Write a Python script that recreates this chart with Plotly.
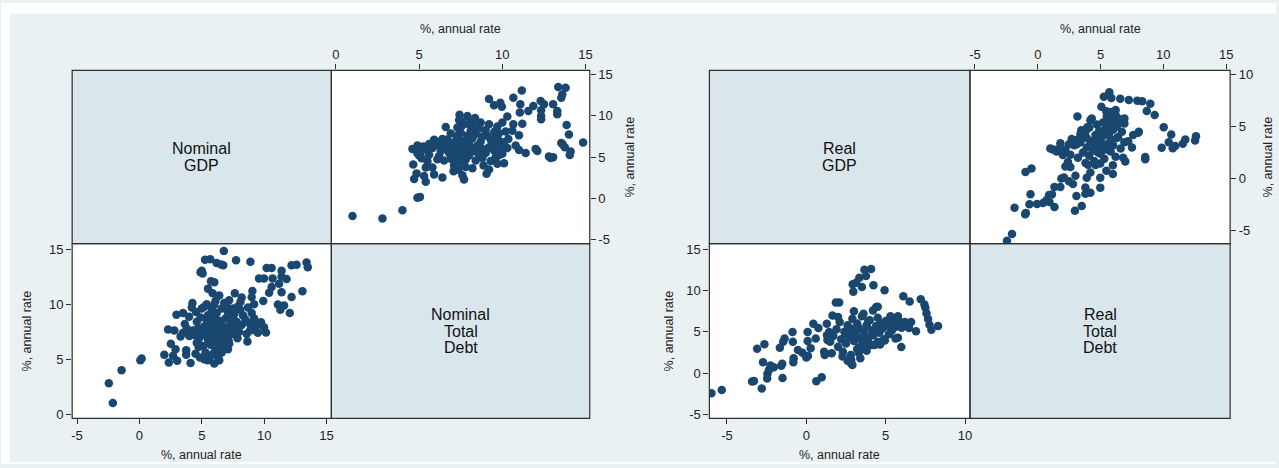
import plotly.graph_objects as go

# ---- Nominal series: growth, % annual rate ----
nominal_gdp = [
    -2.45, -2.13, -1.43, 0.08, 0.18,
    2.0, 2.36, 3.03, 2.7, 2.52, 2.9, 2.3, 2.8, 3.3, 3.75, 3.75, 4.1, 4.5, 4.75, 4.86,
    2.97, 3.5, 3.98, 3.64, 4.25, 3.48, 4.0, 4.4, 4.54, 4.9, 5.0,
    6.77, 5.26, 5.68, 6.19, 6.72, 6.55, 7.75, 8.9, 5.07, 5.74, 5.87, 7.65, 8.2, 9.0,
    9.06, 9.19, 9.93, 9.0, 9.59, 9.99, 10.68, 10.2, 10.6, 11.4, 11.4, 11.8, 11.2,
    10.6, 10.4, 11.4, 12.2, 11.1, 11.6, 11.3, 12.06, 12.2, 12.6, 13.4, 13.5, 13.07,
    9.99, 10.15, 9.75, 9.33, 8.87, 8.66, 7.1, 6.3, 5.47, 7.15, 7.86, 7.7, 8.07, 7.6,
    6.99, 7.2, 6.0, 5.2,
    5.0, 5.2, 5.3, 5.4, 5.5, 5.5, 5.6, 5.7, 5.7, 5.8, 5.8, 5.9, 6.0, 6.0, 6.1, 6.1,
    6.2, 6.2, 6.3, 6.3, 6.4, 6.4, 6.5, 6.6, 6.7, 6.7, 6.8, 6.9, 7.0, 7.1, 7.2, 7.3,
    7.4, 7.5, 7.6, 7.8, 7.9, 8.0, 8.2, 8.3, 8.5, 8.6, 8.8, 9.0, 9.2, 9.4, 9.5, 5.1,
    5.3, 5.6, 5.9, 6.2, 6.6, 6.9, 4.9, 4.7, 4.8, 5.0, 5.4, 6.1, 6.4, 6.8, 7.5, 8.1,
    8.7, 5.5, 6.0, 4.6, 4.3, 4.2, 3.8, 4.6, 5.2, 6.4, 6.0,
]
nominal_debt = [
    2.8, 1.0, 4.0, 4.9, 5.05,
    5.4, 4.7, 4.85, 5.3, 6.4, 5.9, 7.7, 7.6, 7.07, 5.8, 5.4, 4.65, 5.5, 6.1, 5.15,
    9.05, 9.2, 8.87, 8.2, 10.1, 7.37, 7.1, 7.2, 9.3, 12.9, 13.05,
    14.85, 14.05, 14.1, 13.75, 13.54, 13.62, 14.0, 13.86, 12.8, 12.1, 11.0, 11.0, 10.6, 10.66,
    11.2, 10.0, 10.3, 9.2, 12.33, 12.33, 12.33, 13.3, 13.3, 13.05, 12.5, 12.3, 11.86,
    11.56, 11.05, 11.08, 10.66, 9.97, 9.88, 9.5, 9.2, 13.54, 13.6, 13.8, 13.36, 11.17,
    7.9, 7.43, 8.36, 7.6, 7.6, 6.6, 5.9, 5.24, 4.9, 6.7, 6.9, 7.37, 9.52, 9.1,
    9.8, 10.36, 9.95, 9.77,
    7.5, 8.0, 7.2, 8.6, 6.8, 9.0, 7.6, 6.3, 8.3, 7.0, 9.5, 7.9, 6.6, 8.8, 7.3, 5.8,
    8.1, 9.2, 6.9, 7.7, 6.2, 8.5, 7.4, 9.6, 6.6, 8.0, 7.1, 8.7, 7.6, 9.3, 6.4, 8.2,
    7.3, 8.8, 7.9, 8.4, 9.8, 7.5, 8.1, 9.0, 8.6, 7.3, 8.3, 8.0, 8.7, 8.1, 7.4, 6.2,
    5.6, 5.1, 5.5, 5.3, 5.6, 6.0, 8.8, 7.8, 6.9, 9.6, 10.0, 10.3, 10.8, 10.1, 9.6, 10.2,
    9.7, 11.4, 12.0, 8.4, 7.6, 9.7, 7.8, 6.5, 5.0, 4.9, 4.6,
]

# ---- Real series: growth, % annual rate ----
real_gdp = [
    -5.98, -5.33, -3.42, -3.3, -2.81, -3.1, -2.64, -2.73, -2.26, -2.05, -2.35, -2.45,
    -2.47, -1.5, -1.52, -1.58, -1.67, -1.46, -1.37, -0.87, -0.85, -0.8, -0.82, -0.53,
    -0.25, 0.0, 0.1, 0.27, 0.08, 0.08, 0.59, 0.44, 0.76, 0.63, 0.97, 1.12, 1.16, 1.33,
    1.44, 1.29, 1.65, 1.86,
    3.66, 4.08, 3.76, 3.34, 3.13, 2.92, 3.5, 2.96, 4.23, 4.93, 6.11, 6.51, 7.21, 7.44,
    7.5, 7.57, 7.67, 7.76, 7.88, 8.3, 6.91, 5.98, 5.62, 5.77, 4.95, 4.65, 4.08, 3.3,
    2.81, 2.83, 2.28, 2.07, 4.5, 4.4, 5.77, 5.35, 6.2, 6.47,
    1.5, 1.7, 1.9, 2.0, 2.1, 2.2, 2.3, 2.4, 2.5, 2.6, 2.7, 2.8, 2.9, 3.0, 3.0, 3.1,
    3.2, 3.2, 3.3, 3.4, 3.5, 3.5, 3.6, 3.7, 3.8, 3.8, 3.9, 4.0, 4.1, 4.2, 4.3, 4.4,
    4.5, 4.6, 4.7, 4.8, 4.9, 5.0, 5.1, 5.2, 5.3, 5.4, 5.5, 5.6, 5.8, 5.9, 6.0, 6.2,
    6.4, 6.6, 2.6, 3.4, 2.9, 3.0, 3.6, 4.2, 1.3, 1.6, 2.0, 3.3, 3.7, 4.5, 2.5, 2.8,
    3.9, 4.3,
]
real_debt = [
    -2.45, -2.05, -1.0, -0.95, -1.85, 2.96, 3.5, 1.33, 0.93, 0.7, 0.42, -0.06,
    -0.66, -0.58, 1.13, 0.9, 3.08, 3.79, 4.19, 4.98, 3.79, 1.8, 1.33, 2.8,
    2.48, 1.88, 2.09, 3.0, 3.9, 4.98, 4.19, 5.98, 5.46, -0.98, -0.5, 2.6, 2.2, 4.0,
    4.98, 5.98, 6.97, 8.56,
    12.53, 12.6, 11.75, 11.55, 10.95, 10.75, 10.43, 9.87, 10.63, 10.03, 9.31, 8.68, 8.96, 8.32,
    7.93, 7.25, 6.57, 5.86, 5.26, 5.7, 5.07, 3.16, 4.19, 4.3, 3.95, 3.47, 3.4, 2.48,
    1.2, 1.6, 2.0, 8.56, 8.05, 8.0, 6.9, 6.33, 6.18, 5.46,
    3.8, 4.5, 5.3, 3.2, 6.2, 4.1, 2.6, 5.0, 3.6, 5.8, 4.4, 2.2, 6.6, 3.9, 5.2, 4.7,
    2.9, 6.0, 5.5, 4.2, 3.4, 6.9, 5.0, 4.5, 5.8, 2.7, 3.9, 6.4, 5.2, 4.6, 3.4, 5.7,
    6.7, 4.9, 6.0, 5.4, 4.1, 6.3, 5.7, 4.7, 6.9, 5.2, 6.1, 5.6, 6.4, 5.9, 5.5, 6.0,
    5.8, 6.2, 1.5, 1.8, 1.0, 7.5, 7.2, 7.6, 4.6, 2.4, 6.8, 3.1, 3.0, 3.8, 4.8, 5.4,
    6.3, 5.0,
]

nominal_labels = ["Nominal GDP", "Nominal Total Debt"]
real_labels = ["Real GDP", "Real Total Debt"]
axis_title = "%, annual rate"

W, H = 1279, 468
BG = "#EAF1F3"
DIAG = "#D9E6EC"
NAVY = "#1A476F"
EDGE = "#2E2E2E"
FONT = "Arial, Liberation Sans, sans-serif"


def fx(px):
    return px / W


def fy(py):
    return 1 - py / H


# panel edges in pixels: (x_left, x_mid, x_right), (y_top, y_mid, y_bottom)
left_cols = (71.4, 331.4, 590.6)
right_cols = (710.6, 972.0, 1233.0)
rows = (68.3, 244.3, 421.7)

fig = go.Figure()

marker = dict(color=NAVY, size=8.5, line=dict(width=0))
fig.add_trace(go.Scatter(x=nominal_debt, y=nominal_gdp, mode="markers",
                         marker=marker, xaxis="x", yaxis="y", showlegend=False))
fig.add_trace(go.Scatter(x=nominal_gdp, y=nominal_debt, mode="markers",
                         marker=marker, xaxis="x2", yaxis="y2", showlegend=False))
fig.add_trace(go.Scatter(x=real_debt, y=real_gdp, mode="markers",
                         marker=marker, xaxis="x3", yaxis="y3", showlegend=False))
fig.add_trace(go.Scatter(x=real_gdp, y=real_debt, mode="markers",
                         marker=marker, xaxis="x4", yaxis="y4", showlegend=False))

tick_font = dict(family=FONT, size=13, color="#222222")


def axis(domain, rng, vals, side, anchor):
    return dict(domain=domain, range=rng, tickvals=vals, ticktext=[str(v) for v in vals],
                side=side, anchor=anchor, showgrid=False, zeroline=False, showline=False,
                ticks="outside", ticklen=5, tickwidth=1, tickcolor=EDGE,
                tickfont=tick_font, fixedrange=True)


top_dom = [fy(rows[1]), fy(rows[0])]
bot_dom = [fy(rows[2]), fy(rows[1])]

fig.update_layout(
    xaxis=axis([fx(left_cols[1]), fx(left_cols[2])], [-0.27, 15.25], [0, 5, 10, 15], "top", "y"),
    yaxis=axis(top_dom, [-5.49, 15.53], [-5, 0, 5, 10, 15], "right", "x"),
    xaxis2=axis([fx(left_cols[0]), fx(left_cols[1])], [-5.39, 15.39], [-5, 0, 5, 10, 15], "bottom", "y2"),
    yaxis2=axis(bot_dom, [-0.39, 15.51], [0, 5, 10, 15], "left", "x2"),
    xaxis3=axis([fx(right_cols[1]), fx(right_cols[2])], [-5.4, 15.32], [-5, 0, 5, 10, 15], "top", "y3"),
    yaxis3=axis(top_dom, [-6.26, 10.42], [-5, 0, 5, 10], "right", "x3"),
    xaxis4=axis([fx(right_cols[0]), fx(right_cols[1])], [-6.11, 10.31], [-5, 0, 5, 10], "bottom", "y4"),
    yaxis4=axis(bot_dom, [-5.48, 15.68], [-5, 0, 5, 10, 15], "left", "x4"),
)

shapes = []
# white margin strips around the shaded graph region
for x0, y0, x1, y1 in [(0, 0, W, 11), (0, 0, 9, H), (0, 466, W, H)]:
    shapes.append(dict(type="rect", xref="paper", yref="paper", layer="below",
                       x0=fx(x0), x1=fx(x1), y0=fy(y1), y1=fy(y0),
                       fillcolor="white", line=dict(width=0)))

annotations = []


def matrix(cols, labels, title_x_right, title_x_left):
    # diagonal cells with variable names
    for i, (cx0, cx1, ry0, ry1) in enumerate([(cols[0], cols[1], rows[0], rows[1]),
                                              (cols[1], cols[2], rows[1], rows[2])]):
        shapes.append(dict(type="rect", xref="paper", yref="paper", layer="below",
                           x0=fx(cx0), x1=fx(cx1), y0=fy(ry1), y1=fy(ry0),
                           fillcolor=DIAG, line=dict(width=0)))
        words = labels[i].split(" ")
        cx, cy = (cx0 + cx1) / 2, (ry0 + ry1) / 2
        step = 16.4
        for k, wd in enumerate(words):
            yy = cy + (k - (len(words) - 1) / 2) * step
            annotations.append(dict(text=wd, x=fx(cx), y=fy(yy), xref="paper", yref="paper",
                                    showarrow=False, xanchor="center", yanchor="middle",
                                    font=dict(family=FONT, size=16, color="#111111")))
    # cell outlines
    for cx0, cx1 in [(cols[0], cols[1]), (cols[1], cols[2])]:
        for ry0, ry1 in [(rows[0], rows[1]), (rows[1], rows[2])]:
            shapes.append(dict(type="rect", xref="paper", yref="paper", layer="above",
                               x0=fx(cx0), x1=fx(cx1), y0=fy(ry1), y1=fy(ry0),
                               line=dict(color=EDGE, width=1.2)))
    # axis titles
    tf = dict(family=FONT, size=12.5, color="#222222")
    annotations.append(dict(text=axis_title, x=fx((cols[1] + cols[2]) / 2), y=fy(26.5),
                            xref="paper", yref="paper", showarrow=False, font=tf,
                            xanchor="center", yanchor="middle"))
    annotations.append(dict(text=axis_title, x=fx((cols[0] + cols[1]) / 2), y=fy(459),
                            xref="paper", yref="paper", showarrow=False, font=tf,
                            xanchor="center", yanchor="middle"))
    annotations.append(dict(text=axis_title, x=fx(title_x_right), y=fy((rows[0] + rows[1]) / 2),
                            xref="paper", yref="paper", showarrow=False, font=tf, textangle=-90,
                            xanchor="center", yanchor="middle"))
    annotations.append(dict(text=axis_title, x=fx(title_x_left), y=fy((rows[1] + rows[2]) / 2),
                            xref="paper", yref="paper", showarrow=False, font=tf, textangle=-90,
                            xanchor="center", yanchor="middle"))


matrix(left_cols, nominal_labels, 630.5, 26.5)
matrix(right_cols, real_labels, 1270.5, 670.5)

fig.update_layout(
    width=W, height=H,
    margin=dict(l=0, r=0, t=0, b=0),
    paper_bgcolor=BG, plot_bgcolor="white",
    shapes=shapes, annotations=annotations,
    showlegend=False,
)

fig.write_html("out.html")
